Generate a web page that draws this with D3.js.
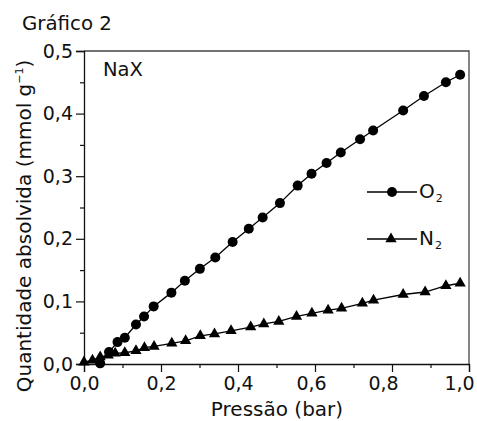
<!DOCTYPE html>
<html>
<head>
<meta charset="utf-8">
<script src="https://cdn.jsdelivr.net/npm/d3@7"></script>
<style>
  html, body { margin: 0; padding: 0; background: #fff; }
  svg { display: block; }
  text { font-family: "DejaVu Sans", Verdana, sans-serif; fill: #111; }
</style>
</head>
<body>
<svg id="chart" width="477" height="421"></svg>
<script>
// O2 isotherm on NaX: pressure (bar) and adsorbed amount (mmol/g)
const o2Pressure = [0.042, 0.065, 0.087, 0.106, 0.135, 0.156, 0.181, 0.227, 0.262, 0.301,
                    0.341, 0.386, 0.428, 0.464, 0.509, 0.555, 0.591, 0.630, 0.667, 0.717,
                    0.751, 0.829, 0.883, 0.940, 0.977];
const o2Amount   = [0.001, 0.019, 0.035, 0.042, 0.063, 0.076, 0.092, 0.114, 0.133, 0.152,
                    0.170, 0.195, 0.216, 0.234, 0.257, 0.285, 0.304, 0.321, 0.338, 0.359,
                    0.373, 0.405, 0.428, 0.450, 0.462];

// N2 isotherm on NaX
const n2Pressure = [0.000, 0.022, 0.042, 0.063, 0.081, 0.106, 0.135, 0.157, 0.182, 0.228,
                    0.264, 0.302, 0.339, 0.382, 0.433, 0.467, 0.506, 0.552, 0.592, 0.634,
                    0.669, 0.723, 0.752, 0.829, 0.886, 0.940, 0.977];
const n2Amount   = [0.003, 0.006, 0.011, 0.014, 0.017, 0.018, 0.021, 0.026, 0.028, 0.033,
                    0.037, 0.045, 0.048, 0.053, 0.059, 0.064, 0.068, 0.076, 0.081, 0.086,
                    0.089, 0.097, 0.102, 0.111, 0.115, 0.125, 0.129];

const xTicks = [0, 0.2, 0.4, 0.6, 0.8, 1.0];
const xMinorTicks = [0.1, 0.3, 0.5, 0.7, 0.9];
const yTicks = [0, 0.1, 0.2, 0.3, 0.4, 0.5];
const yMinorTicks = [0.05, 0.15, 0.25, 0.35, 0.45];

const fmt = d => d3.format(".1f")(d).replace(".", ",");

const svg = d3.select("#chart");
const plotLeft = 84, plotRight = 469, plotTop = 51, plotBottom = 364;

const x = d3.scaleLinear().domain([0, 1]).range([plotLeft, plotRight]);
const y = d3.scaleLinear().domain([0, 0.5]).range([plotBottom, plotTop]);

// frame (top and right edges)
svg.append("path")
  .attr("d", `M${plotLeft},${plotTop}H${plotRight}V${plotBottom}`)
  .attr("fill", "none").attr("stroke", "#444").attr("stroke-width", 1.3);

// bottom axis
const gx = svg.append("g").attr("transform", `translate(0,${plotBottom})`);
gx.call(d3.axisBottom(x).tickValues(xTicks).tickFormat(fmt).tickSize(8).tickPadding(5));
gx.append("g").call(d3.axisBottom(x).tickValues(xMinorTicks).tickFormat("").tickSize(4))
  .select(".domain").remove();
// labels toward the right end sit a little left of their ticks so "1,0" stays on the page
gx.selectAll(".tick text").attr("dx", d => d >= 0.95 ? -10 : d >= 0.75 ? -9 : d >= 0.55 ? -4 : 0);

// left axis
const gy = svg.append("g").attr("transform", `translate(${plotLeft},0)`);
gy.call(d3.axisLeft(y).tickValues(yTicks).tickFormat(fmt).tickSize(8).tickPadding(3));
gy.append("g").call(d3.axisLeft(y).tickValues(yMinorTicks).tickFormat("").tickSize(4))
  .select(".domain").remove();

svg.selectAll(".domain").attr("stroke", "#111").attr("stroke-width", 1.3);
svg.selectAll(".tick line").attr("stroke", "#111").attr("stroke-width", 1.2);
svg.selectAll(".tick text").attr("font-size", 19).attr("font-family", "DejaVu Sans, Verdana, sans-serif").attr("fill", "#111");

// series
const line = d3.line().x(d => x(d[0])).y(d => y(d[1]));
const o2 = o2Pressure.map((p, i) => [p, o2Amount[i]]);
const n2 = n2Pressure.map((p, i) => [p, n2Amount[i]]);

svg.append("path").datum(o2).attr("d", line)
  .attr("fill", "none").attr("stroke", "#000").attr("stroke-width", 1.3);
svg.append("path").datum(n2).attr("d", line)
  .attr("fill", "none").attr("stroke", "#000").attr("stroke-width", 1.3);

const tri = d3.symbol().type(d3.symbolTriangle).size(55);
svg.append("g").selectAll("path").data(n2).join("path")
  .attr("d", tri)
  .attr("transform", d => `translate(${x(d[0])},${y(d[1])})`)
  .attr("fill", "#000");

svg.append("g").selectAll("circle").data(o2).join("circle")
  .attr("cx", d => x(d[0])).attr("cy", d => y(d[1])).attr("r", 5)
  .attr("fill", "#000");

// legend
const legend = [
  { name: "O", sub: "2", marker: "circle", y: 192 },
  { name: "N", sub: "2", marker: "triangle", y: 239 }
];
legend.forEach(l => {
  svg.append("line").attr("x1", 367).attr("x2", 417).attr("y1", l.y).attr("y2", l.y)
    .attr("stroke", "#000").attr("stroke-width", 1.3);
  if (l.marker === "circle") {
    svg.append("circle").attr("cx", 392).attr("cy", l.y).attr("r", 5).attr("fill", "#000");
  } else {
    svg.append("path").attr("d", tri).attr("transform", `translate(391,${l.y})`).attr("fill", "#000");
  }
  const t = svg.append("text").attr("x", 419).attr("y", l.y + 6).attr("font-size", 20);
  t.append("tspan").text(l.name);
  t.append("tspan").attr("font-size", 11).attr("dy", 4).attr("dx", 1).text(l.sub);
});

// labels
svg.append("text").attr("x", 22).attr("y", 30).attr("font-size", 19.8).text("Gráfico 2");
svg.append("text").attr("x", 103).attr("y", 76).attr("font-size", 19.5).text("NaX");

svg.append("text").attr("x", 277).attr("y", 416)
  .attr("text-anchor", "middle").attr("font-size", 20).text("Pressão (bar)");

const yt = svg.append("text")
  .attr("transform", "translate(31,226) rotate(-90)")
  .attr("text-anchor", "middle").attr("font-size", 20);
yt.append("tspan").text("Quantidade absolvida (mmol g");
yt.append("tspan").attr("font-size", 11).attr("dy", -8).text("−1");
yt.append("tspan").attr("dy", 8).text(")");
</script>
</body>
</html>
